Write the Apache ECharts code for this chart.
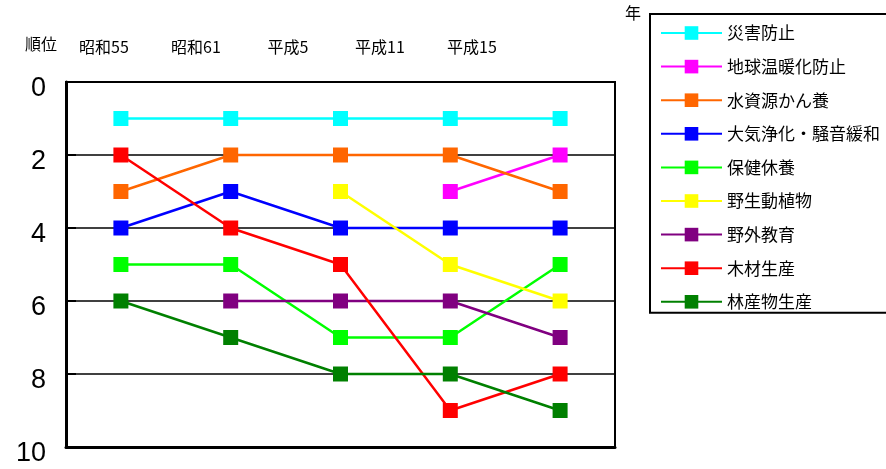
<!DOCTYPE html>
<html>
<head>
<meta charset="utf-8">
<script src="https://cdn.jsdelivr.net/npm/echarts@6/dist/echarts.min.js"></script>
<style>
  html, body { margin: 0; padding: 0; background: #fff; }
  #chart { width: 886px; height: 469px; }
</style>
</head>
<body>
<div id="chart"></div>
<script>
// 年次ごとの森林の機能別順位
const years = ['昭和55', '昭和61', '平成5', '平成11', '平成15'];
const yTicks = [0, 2, 4, 6, 8, 10];

const saigaiBoshi = [1, 1, 1, 1, 1];
const chikyuOndanka = [null, null, null, 3, 2];
const suishigen = [3, 2, 2, 2, 3];
const taikiJoka = [4, 3, 4, 4, 4];
const hokenKyuyo = [5, 5, 7, 7, 5];
const yaseiDoshokubutsu = [null, null, 3, 5, 6];
const yagaiKyoiku = [null, 6, 6, 6, 7];
const mokuzaiSeisan = [2, 4, 5, 9, 8];
const rinsanbutsu = [6, 7, 8, 8, 9];

const seriesDefs = [
  { name: '災害防止', data: saigaiBoshi, color: '#00FFFF' },
  { name: '地球温暖化防止', data: chikyuOndanka, color: '#FF00FF' },
  { name: '水資源かん養', data: suishigen, color: '#FF6600' },
  { name: '大気浄化・騒音緩和', data: taikiJoka, color: '#0000FF' },
  { name: '保健休養', data: hokenKyuyo, color: '#00FF00' },
  { name: '野生動植物', data: yaseiDoshokubutsu, color: '#FFFF00' },
  { name: '野外教育', data: yagaiKyoiku, color: '#800080' },
  { name: '木材生産', data: mokuzaiSeisan, color: '#FF0000' },
  { name: '林産物生産', data: rinsanbutsu, color: '#008000' }
];

const jpFont = '"Noto Sans CJK JP", "Noto Sans", sans-serif';
const numFont = '"Liberation Sans", Arial, sans-serif';

const chart = echarts.init(document.getElementById('chart'));
chart.setOption({
  animation: false,
  backgroundColor: '#fff',
  grid: [
    { left: 66, right: 271, top: 82, bottom: 22, show: true, borderColor: '#000', borderWidth: 2 },
    { left: 58, width: 460, top: 82, bottom: 22 }
  ],
  xAxis: [
    {
      type: 'category', data: years, gridIndex: 0, position: 'top', boundaryGap: true,
      axisLine: { lineStyle: { color: '#000', width: 2 } },
      axisTick: { inside: true, length: 5, lineStyle: { color: '#000', width: 2 } },
      axisLabel: { show: false }, splitLine: { show: false }
    },
    {
      type: 'category', data: years, gridIndex: 0, position: 'bottom',
      axisLine: { lineStyle: { color: '#000', width: 3 } },
      axisTick: { show: false }, axisLabel: { show: false }, splitLine: { show: false }
    },
    {
      type: 'category', data: years, gridIndex: 1, position: 'top', boundaryGap: true,
      axisLine: { show: false }, axisTick: { show: false }, splitLine: { show: false },
      axisLabel: { color: '#000', fontSize: 16, fontFamily: jpFont, margin: 27 }
    }
  ],
  yAxis: [
    {
      type: 'value', gridIndex: 0, inverse: true, min: yTicks[0], max: yTicks[yTicks.length - 1], interval: 2,
      axisLine: { show: true, lineStyle: { color: '#000', width: 3 } },
      axisTick: { show: true, inside: true, length: 10, lineStyle: { color: '#000', width: 2 } },
      axisLabel: {
        color: '#000', fontSize: 27, fontFamily: numFont, margin: 20,
        verticalAlign: 'top', lineHeight: 14
      },
      splitLine: { show: true, lineStyle: { color: '#000', width: 1.5 } }
    },
    {
      type: 'value', gridIndex: 1, show: false, min: 0, max: 10
    }
  ],
  legend: {
    orient: 'vertical', left: 650, top: 14,
    padding: [9, 10, 1, 10],
    itemWidth: 61, itemHeight: 17, itemGap: 13.6,
    borderColor: '#000', borderWidth: 2,
    textStyle: { color: '#000', fontSize: 17, fontFamily: jpFont, lineHeight: 20 },
    data: seriesDefs.map(s => s.name)
  },
  graphic: [
    { type: 'text', left: 25, top: 36, style: { text: '順位', fontSize: 16, fontFamily: jpFont, fill: '#000' } },
    { type: 'text', left: 625, top: 5, style: { text: '年', fontSize: 16, fontFamily: jpFont, fill: '#000' } }
  ],
  series: seriesDefs.map(s => ({
    name: s.name,
    type: 'line',
    xAxisIndex: 0,
    yAxisIndex: 0,
    data: s.data,
    color: s.color,
    symbol: 'rect',
    symbolSize: 15,
    connectNulls: false,
    lineStyle: { width: 2.5, color: s.color },
    itemStyle: { color: s.color, borderWidth: 0 }
  }))
});
</script>
</body>
</html>
